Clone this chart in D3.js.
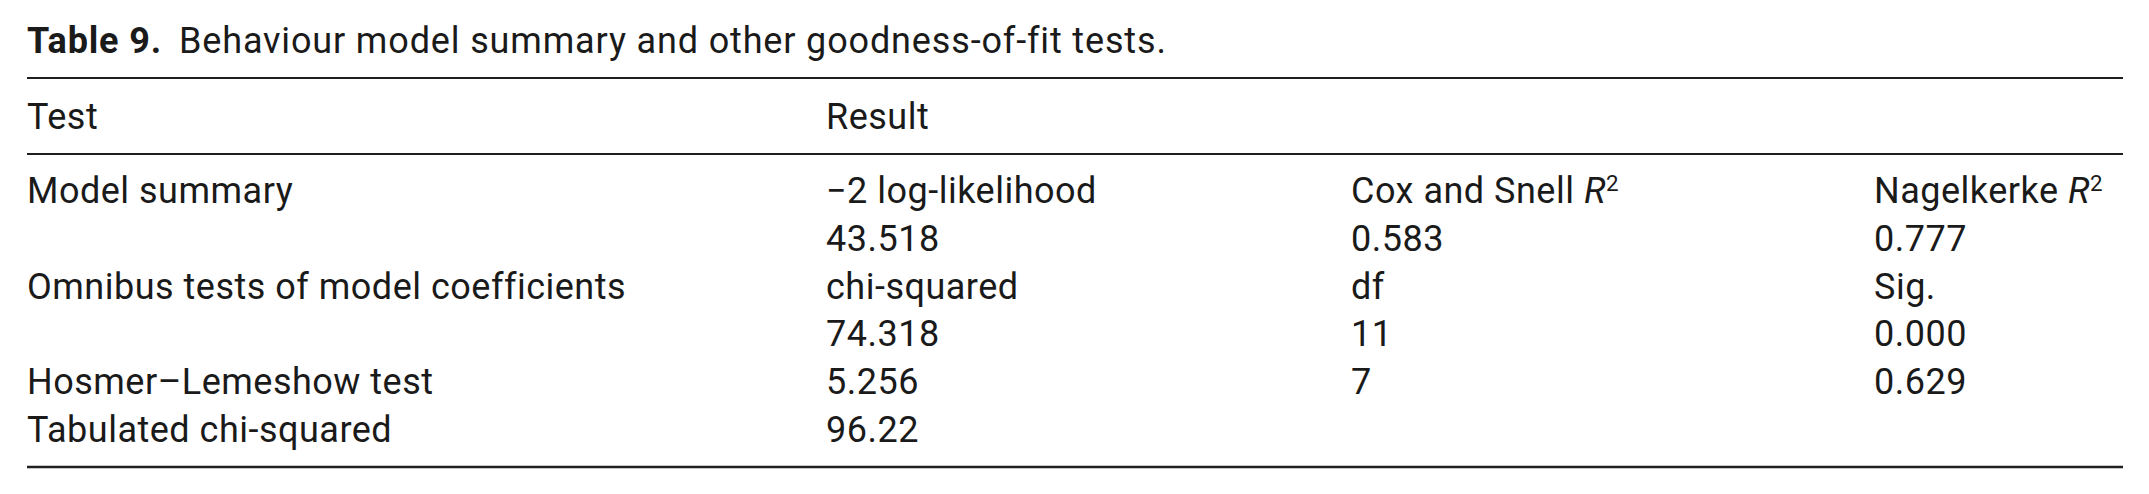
<!DOCTYPE html>
<html>
<head>
<meta charset="utf-8">
<script src="https://cdn.jsdelivr.net/npm/d3@7"></script>
<style>
  html, body { margin: 0; padding: 0; background: #ffffff; }
  svg { display: block; }
  text { font-family: Roboto, "Noto Sans", sans-serif; fill: #1a1a1a; }
</style>
</head>
<body>
<svg id="chart" width="2149" height="494"></svg>
<script>
// ---- data ----
const tableLabel = "Table 9.";
const tableCaption = "Behaviour model summary and other goodness-of-fit tests.";
const headers = ["Test", "Result", "", ""];
const testNames = ["Model summary", "", "Omnibus tests of model coefficients", "", "Hosmer–Lemeshow test", "Tabulated chi-squared"];
const resultCol1 = ["−2 log-likelihood", "43.518", "chi-squared", "74.318", "5.256", "96.22"];
const resultCol2 = ["Cox and Snell R²", "0.583", "df", "11", "7", ""];
const resultCol3 = ["Nagelkerke R²", "0.777", "Sig.", "0.000", "0.629", ""];

// ---- layout ----
const W = 2149, H = 494;
const svg = d3.select("#chart");
const fontSize = 36;

const columns = [testNames, resultCol1, resultCol2, resultCol3];
const colX = d3.scaleOrdinal().domain([0, 1, 2, 3]).range([27, 826, 1351, 1874]);
const rowY = d3.scaleLinear().domain([0, testNames.length - 1]).range([203, 442]);
const ruleX = d3.scaleLinear().domain([0, 1]).range([27, 2123]);

// title
const title = svg.append("text")
  .attr("x", colX(0)).attr("y", 53)
  .style("font-size", fontSize + "px")
  .style("letter-spacing", "0.85px");
title.append("tspan").style("font-weight", 700).text(tableLabel);
title.append("tspan").attr("dx", 17).text(tableCaption);

// rules
const rules = [{y: 78, w: 2}, {y: 154, w: 2}, {y: 467, w: 2.6}];
svg.selectAll("line.rule").data(rules).join("line")
  .attr("class", "rule")
  .attr("x1", ruleX(0)).attr("x2", ruleX(1))
  .attr("y1", d => d.y).attr("y2", d => d.y)
  .attr("stroke", "#1f1f1f").attr("stroke-width", d => d.w);

// header
svg.selectAll("text.hdr").data(headers).join("text")
  .attr("class", "hdr")
  .attr("x", (d, i) => colX(i)).attr("y", 129)
  .style("font-size", fontSize + "px")
  .style("letter-spacing", "0.5px")
  .text(d => d);

// body cells
function addCell(sel, str) {
  const m = str.match(/^(.*)R²$/);
  if (m) {
    sel.append("tspan").text(m[1]);
    sel.append("tspan").style("font-style", "italic").text("R");
    sel.append("tspan").attr("dy", -12).style("font-size", (fontSize * 0.62) + "px").text("2");
  } else {
    sel.text(str);
  }
}
columns.forEach((col, ci) => {
  const g = svg.append("g");
  col.forEach((val, ri) => {
    if (!val) return;
    const t = g.append("text")
      .attr("x", colX(ci)).attr("y", rowY(ri))
      .style("font-size", fontSize + "px")
      .style("letter-spacing", "0.5px");
    addCell(t, val);
  });
});
</script>
</body>
</html>
